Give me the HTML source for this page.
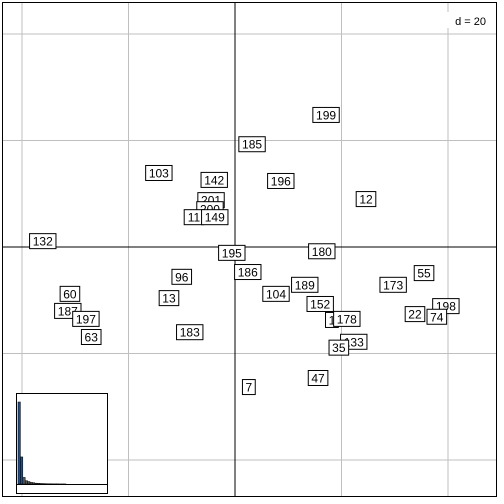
<!DOCTYPE html>
<html><head><meta charset="utf-8"><style>
body{margin:0;background:#fff}
svg{display:block;font-family:"Liberation Sans",sans-serif}
</style></head><body>
<svg id="c" width="504" height="504"></svg>
<script>
const labels=["199","185","103","142","196","12","201","200","11","149","132","195","180","186","96","55","104","189","173","60","13","187","152","198","197","22","74","1","178","183","63","133","35","47","7"];
const xVals=[17.1,3.2,-14.3,-3.9,8.6,24.6,-4.5,-4.7,-7.7,-3.8,-36.1,-0.6,16.3,2.4,-10.0,35.5,7.7,13.1,29.7,-31.0,-12.4,-31.4,16.0,39.6,-28.0,33.8,37.9,18.2,21.0,-8.5,-27.0,22.3,19.5,15.6,2.6];
const yVals=[24.8,19.3,13.9,12.6,12.4,9.0,8.8,7.1,5.6,5.6,1.1,-1.1,-0.8,-4.7,-5.6,-4.9,-8.8,-7.1,-7.1,-8.8,-9.6,-12.0,-10.7,-11.1,-13.5,-12.6,-13.1,-13.7,-13.5,-16.0,-16.9,-17.8,-18.9,-24.6,-26.3];
const gridSteps=[-40,-20,0,20,40];
const eigen=[100,33,8,4,3,2,1.5,1,0.8,0.6,0.5,0.4,0.3,0.3,0.2,0.2,0.2,0.1,0.1,0.1];
const NS="http://www.w3.org/2000/svg";
const svg=document.getElementById('c');
const k=5.325,ox=235,oy=247;
const sx=v=>ox+v*k, sy=v=>oy-v*k;
function mk(t,a,p){const e=document.createElementNS(NS,t);for(const q in a)e.setAttribute(q,a[q]);(p||svg).appendChild(e);return e;}
for(const g of gridSteps){
 if(g===0)continue;
 const l1=mk('line',{x1:sx(g),x2:sx(g),y1:2,y2:497,stroke:'#bfbfbf'});
 
 
 const l2=mk('line',{x1:2,x2:497,y1:sy(g),y2:sy(g),stroke:'#bfbfbf'});
 
 
}
const ax=mk('line',{x1:sx(0),x2:sx(0),y1:2,y2:497,stroke:'#000'});


const ay=mk('line',{x1:2,x2:497,y1:sy(0),y2:sy(0),stroke:'#000'});


const fr=mk('rect',{x:2.5,y:2.5,width:494,height:494,fill:'none',stroke:'#000'});


const dl=mk('rect',{x:436,y:12,width:40,height:16,fill:'#fff'});


const dt=mk('text',{x:486,y:25,'font-size':11,'text-anchor':'end'});
dt.textContent='d = 20';


for(let i=0;i<labels.length;i++){
 const cx=sx(xVals[i]),cy=sy(yVals[i]);
 const w=labels[i].length*6.8+6;
 const g=mk('g',{});
 
 
 mk('rect',{x:cx-w/2,y:cy-7.5,width:w,height:15,fill:'#fff',stroke:'#000'},g);
 const t=mk('text',{x:cx,y:cy+4.5,'font-size':12,'text-anchor':'middle'},g);
 t.textContent=labels[i];
}
const ib=mk('rect',{x:16.5,y:393.5,width:91,height:100,fill:'#fff',stroke:'#000'});


const il=mk('line',{x1:16,x2:108,y1:484.5,y2:484.5,stroke:'#000'});


const bw=2.4,bh=82;
eigen.forEach((v,i)=>{
 const h=v/eigen[0]*bh;
 const b=mk('rect',{x:18+i*bw,y:484-h,width:bw,height:h,fill:i<2?'#1f4e8c':'#555',stroke:'#000','stroke-width':0.5});
 
 
});
</script>
</body></html>
